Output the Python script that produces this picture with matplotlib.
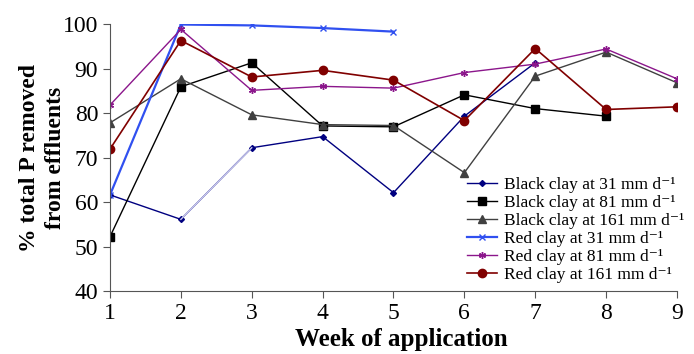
import numpy as np
import matplotlib.pyplot as plt

# weeks of application
semanas = [1, 2, 3, 4, 5, 6, 7, 8, 9]

# % total P removed, one list per clay / loading rate
negra_31 = [61.6, 56.1, 72.2, 74.7, 62.1, 79.3, 91.3]
negra_81 = [52.2, 85.9, 91.3, 77.1, 76.9, 84.1, 81.0, 79.3]
negra_161 = [77.8, 87.7, 79.6, 77.4, 77.2, 66.6, 88.3, 93.7, 86.8]
roja_31 = [61.6, 99.9, 99.7, 99.1, 98.3]
roja_81 = [81.8, 98.8, 85.1, 86.0, 85.6, 89.1, 91.0, 94.4, 87.7]
roja_161 = [71.9, 96.3, 88.1, 89.6, 87.4, 78.3, 94.5, 80.8, 81.4]

etiquetas = ['Black clay at 31 mm d⁻¹', 'Black clay at 81 mm d⁻¹',
             'Black clay at 161 mm d⁻¹', 'Red clay at 31 mm d⁻¹',
             'Red clay at 81 mm d⁻¹', 'Red clay at 161 mm d⁻¹']

plt.rcParams['font.family'] = ['Liberation Serif', 'DejaVu Serif']

fig = plt.figure(figsize=(6.94, 3.54), dpi=100)
ax = fig.add_axes([0.1585, 0.178, 0.817, 0.754])

ax.plot(semanas[:len(negra_31)], negra_31, color='#000080', marker='D',
        markersize=3, lw=1.0, label=etiquetas[0])
# tramo semana 2-3 aclarado
ax.plot(semanas[1:3], negra_31[1:3], color='#c8c8ec', lw=1.0)
ax.plot(semanas[:len(negra_81)], negra_81, color='black', marker='s',
        markersize=5.5, lw=1.0, label=etiquetas[1])
ax.plot(semanas, negra_161, color='#404040', marker='^',
        markersize=5.5, lw=1.0, label=etiquetas[2])
ax.plot(semanas[:len(roja_31)], roja_31, color='#3050f0', marker='x',
        markersize=4.5, lw=1.6, label=etiquetas[3])
ax.plot(semanas, roja_81, color='#8b168b', marker=(6, 2, 0),
        markersize=5, lw=1.0, label=etiquetas[4])
ax.plot(semanas, roja_161, color='#800000', marker='o',
        markersize=6, lw=1.2, label=etiquetas[5])

ax.set_xlim(1, 9)
ax.set_ylim(40, 100)
ax.set_xticks(semanas)
ax.set_yticks(np.arange(40, 101, 10))
for lado in ['top', 'right']:
    ax.spines[lado].set_visible(False)
for lado in ['left', 'bottom']:
    ax.spines[lado].set_color('#555555')
ax.tick_params(axis='both', labelsize=17, color='#555555', length=5)
for t in ax.get_xticklabels() + ax.get_yticklabels():
    t.set_clip_on(False)

ax.set_xlabel('Week of application', fontsize=18, fontweight='bold', labelpad=4)
ax.xaxis.set_label_coords(0.513, -0.14)
ax.set_ylabel('% total P removed\nfrom effluents', fontsize=17,
              fontweight='bold', linespacing=1.3, labelpad=-2)

ax.legend(loc='lower left', bbox_to_anchor=(0.673, 0.201),
          bbox_transform=fig.transFigure, fontsize=12.5,
          frameon=False, handlelength=1.7, handletextpad=0.45,
          labelspacing=0.1, borderaxespad=0, borderpad=0)

fig.savefig('out.png', dpi=100)
